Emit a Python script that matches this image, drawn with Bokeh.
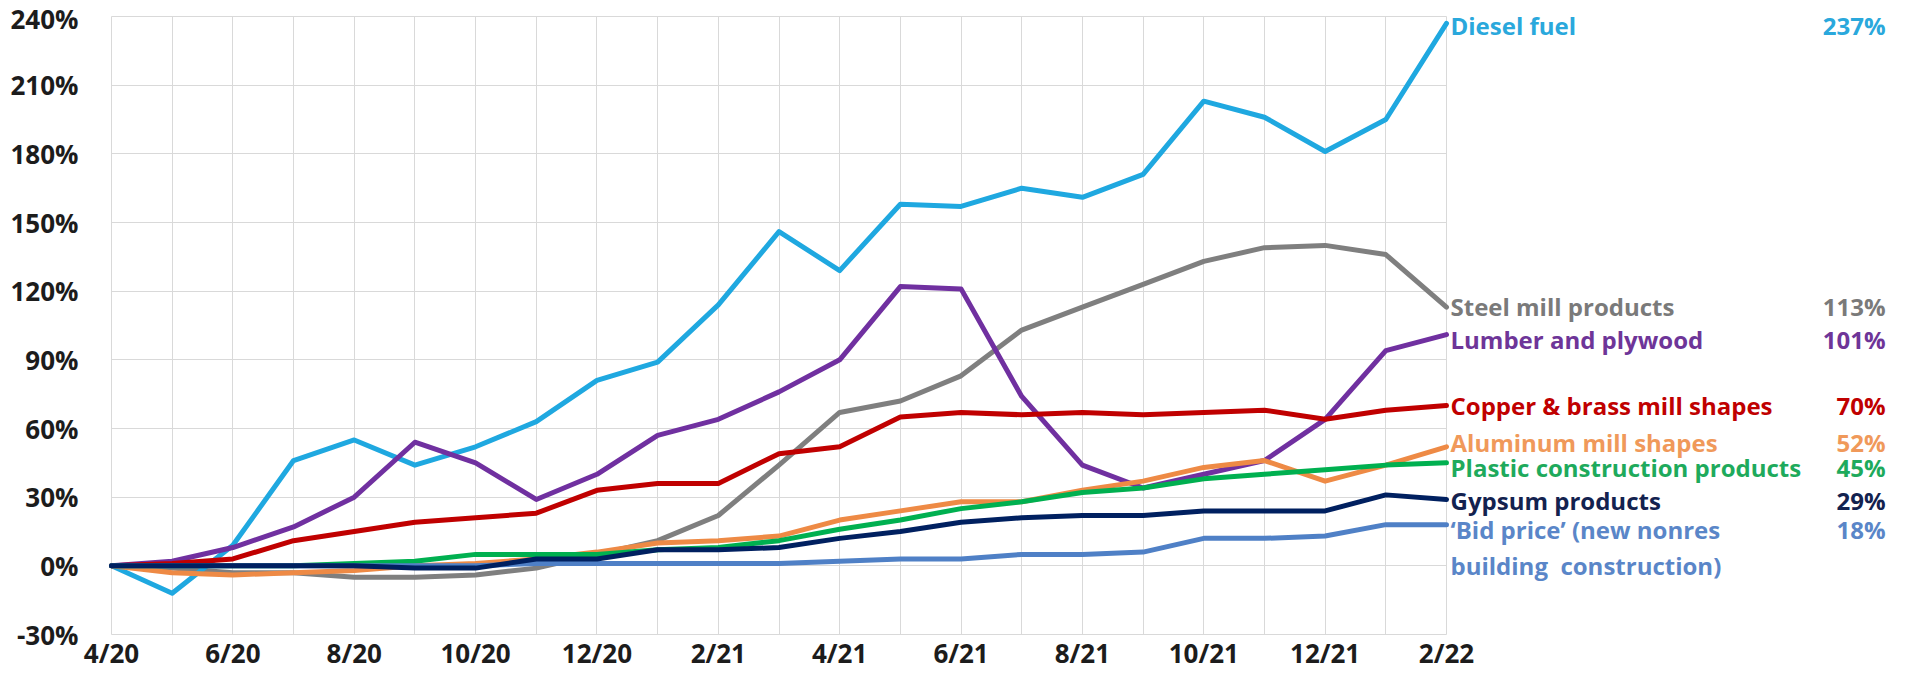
from bokeh.plotting import figure
from bokeh.models import ColumnDataSource, FixedTicker, Range1d
from bokeh.core.properties import value
from bokeh.embed import file_html
from bokeh.resources import INLINE

months = ["4/20", "5/20", "6/20", "7/20", "8/20", "9/20", "10/20", "11/20", "12/20",
          "1/21", "2/21", "3/21", "4/21", "5/21", "6/21", "7/21", "8/21", "9/21",
          "10/21", "11/21", "12/21", "1/22", "2/22"]
y_ticks = [-30, 0, 30, 60, 90, 120, 150, 180, 210, 240]

diesel   = [0, -12, 9, 46, 55, 44, 52, 63, 81, 89, 114, 146, 129, 158, 157, 165, 161, 171, 203, 196, 181, 195, 237]
steel    = [0, -1, -3, -3, -5, -5, -4, -1, 5, 11, 22, 44, 67, 72, 83, 103, 113, 123, 133, 139, 140, 136, 113]
lumber   = [0, 2, 8, 17, 30, 54, 45, 29, 40, 57, 64, 76, 90, 122, 121, 74, 44, 34, 40, 46, 64, 94, 101]
copper   = [0, 1, 3, 11, 15, 19, 21, 23, 33, 36, 36, 49, 52, 65, 67, 66, 67, 66, 67, 68, 64, 68, 70]
aluminum = [0, -3, -4, -3, -2, 0, 1, 3, 6, 10, 11, 13, 20, 24, 28, 28, 33, 37, 43, 46, 37, 44, 52]
plastic  = [0, 0, 0, 0, 1, 2, 5, 5, 5, 7, 8, 11, 16, 20, 25, 28, 32, 34, 38, 40, 42, 44, 45]
gypsum   = [0, 0, 0, 0, 0, -1, -1, 3, 3, 7, 7, 8, 12, 15, 19, 21, 22, 22, 24, 24, 24, 31, 29]
bid      = [0, 0, 0, 0, 0, 0, 0, 1, 1, 1, 1, 1, 2, 3, 3, 5, 5, 6, 12, 12, 13, 18, 18]

series_names = ["Diesel fuel", "Steel mill products", "Lumber and plywood",
                "Copper & brass mill shapes", "Aluminum mill shapes",
                "Plastic construction products", "Gypsum products",
                "\u2018Bid price\u2019 (new nonres"]
series_values = [diesel, steel, lumber, copper, aluminum, plastic, gypsum, bid]
end_labels = ["237%", "113%", "101%", "70%", "52%", "45%", "29%", "18%"]
extra_line = "building\u00a0 construction)"

# styles
line_colors = ["#1fa8e0", "#7f7f7f", "#7030a0", "#c00000", "#ee8a45", "#00b050", "#002060", "#4f80c6"]
text_colors = ["#2aa8dc", "#7a7a7a", "#6e3598", "#c00000", "#f0995a", "#1eaa5c", "#13224f", "#5a86c8"]
label_down = [2, -1, 5, 0, -4, 5, 1.5, 5]   # pixel nudges (downwards) of right-hand labels
draw_order = [1, 0, 2, 3, 4, 5, 7, 6]

FONT = "Open Sans"

# layout (pixels, figure coordinates); the frame fills the whole figure
W, H = 1889, 669
DATA_LEFT = 111            # pixel of the first month
DATA_RIGHT = 1446          # pixel of the last month
DATA_TOP = 16              # pixel of the 240% line
DATA_BOTTOM = 634          # pixel of the -30% line
n_last = len(months) - 1
px_x = (DATA_RIGHT - DATA_LEFT) / n_last
x_start = -DATA_LEFT / px_x
x_end = (W - DATA_LEFT) / px_x
y_lo, y_hi = y_ticks[0], y_ticks[-1]
px_y = (DATA_BOTTOM - DATA_TOP) / (y_hi - y_lo)
y_start = y_lo - (H - DATA_BOTTOM) / px_y
y_end = y_hi + DATA_TOP / px_y

p = figure(width=W, height=H, output_backend="svg", toolbar_location=None,
           x_range=Range1d(x_start, x_end), y_range=Range1d(y_start, y_end),
           min_border_left=0, min_border_right=0, min_border_top=0,
           min_border_bottom=0, background_fill_color="white",
           border_fill_color="white")
p.outline_line_color = None

x = list(range(len(months)))

# grid limited to the data area
p.xgrid.ticker = FixedTicker(ticks=x)
p.ygrid.ticker = FixedTicker(ticks=y_ticks)
p.xgrid.cross_bounds = (y_lo, y_hi)
p.ygrid.cross_bounds = (0, n_last)
for g in (p.xgrid, p.ygrid):
    g.grid_line_color = "#d9d9d9"
    g.grid_line_width = 1

for i in draw_order:
    p.line(x, series_values[i], line_color=line_colors[i], line_width=5,
           line_join="round", line_cap="round")

# axes (pinned to the data area)
xa, ya = p.xaxis[0], p.yaxis[0]
xa.fixed_location = y_lo
ya.fixed_location = 0
xa.ticker = FixedTicker(ticks=x[::2])
xa.major_label_overrides = {i: months[i] for i in x[::2]}
ya.ticker = FixedTicker(ticks=y_ticks)
ya.major_label_overrides = {v: f"{v}%" for v in y_ticks}
for ax in (xa, ya):
    ax.axis_line_color = None
    ax.major_tick_line_color = None
    ax.minor_tick_line_color = None
    ax.major_tick_out = 0
    ax.minor_tick_out = 0
    ax.major_tick_in = 0
    ax.minor_tick_in = 0
    ax.major_label_text_font = FONT
    ax.major_label_text_font_style = "bold"
    ax.major_label_text_font_size = "26px"
    ax.major_label_text_color = "#1c1c1c"
ya.major_label_standoff = 33
xa.major_label_standoff = 0

# right-hand labels
lab_src = ColumnDataSource(dict(
    x=[n_last] * (len(series_names) + 1),
    y=[v[-1] for v in series_values] + [bid[-1]],
    name=series_names + [extra_line],
    pct=end_labels + [""],
    color=text_colors + [text_colors[-1]],
    dy=label_down + [41],
))
p.text(x="x", y="y", text="name", source=lab_src, x_offset=4, y_offset="dy",
       text_color="color", text_font=value(FONT), text_font_style="bold",
       text_font_size="24px", text_baseline="middle", text_align="left")
p.text(x="x", y="y", text="pct", source=lab_src, x_offset=439, y_offset="dy",
       text_color="color", text_font=value(FONT), text_font_style="bold",
       text_font_size="24px", text_baseline="middle", text_align="right")

open("out.html", "w").write(file_html(p, INLINE))
